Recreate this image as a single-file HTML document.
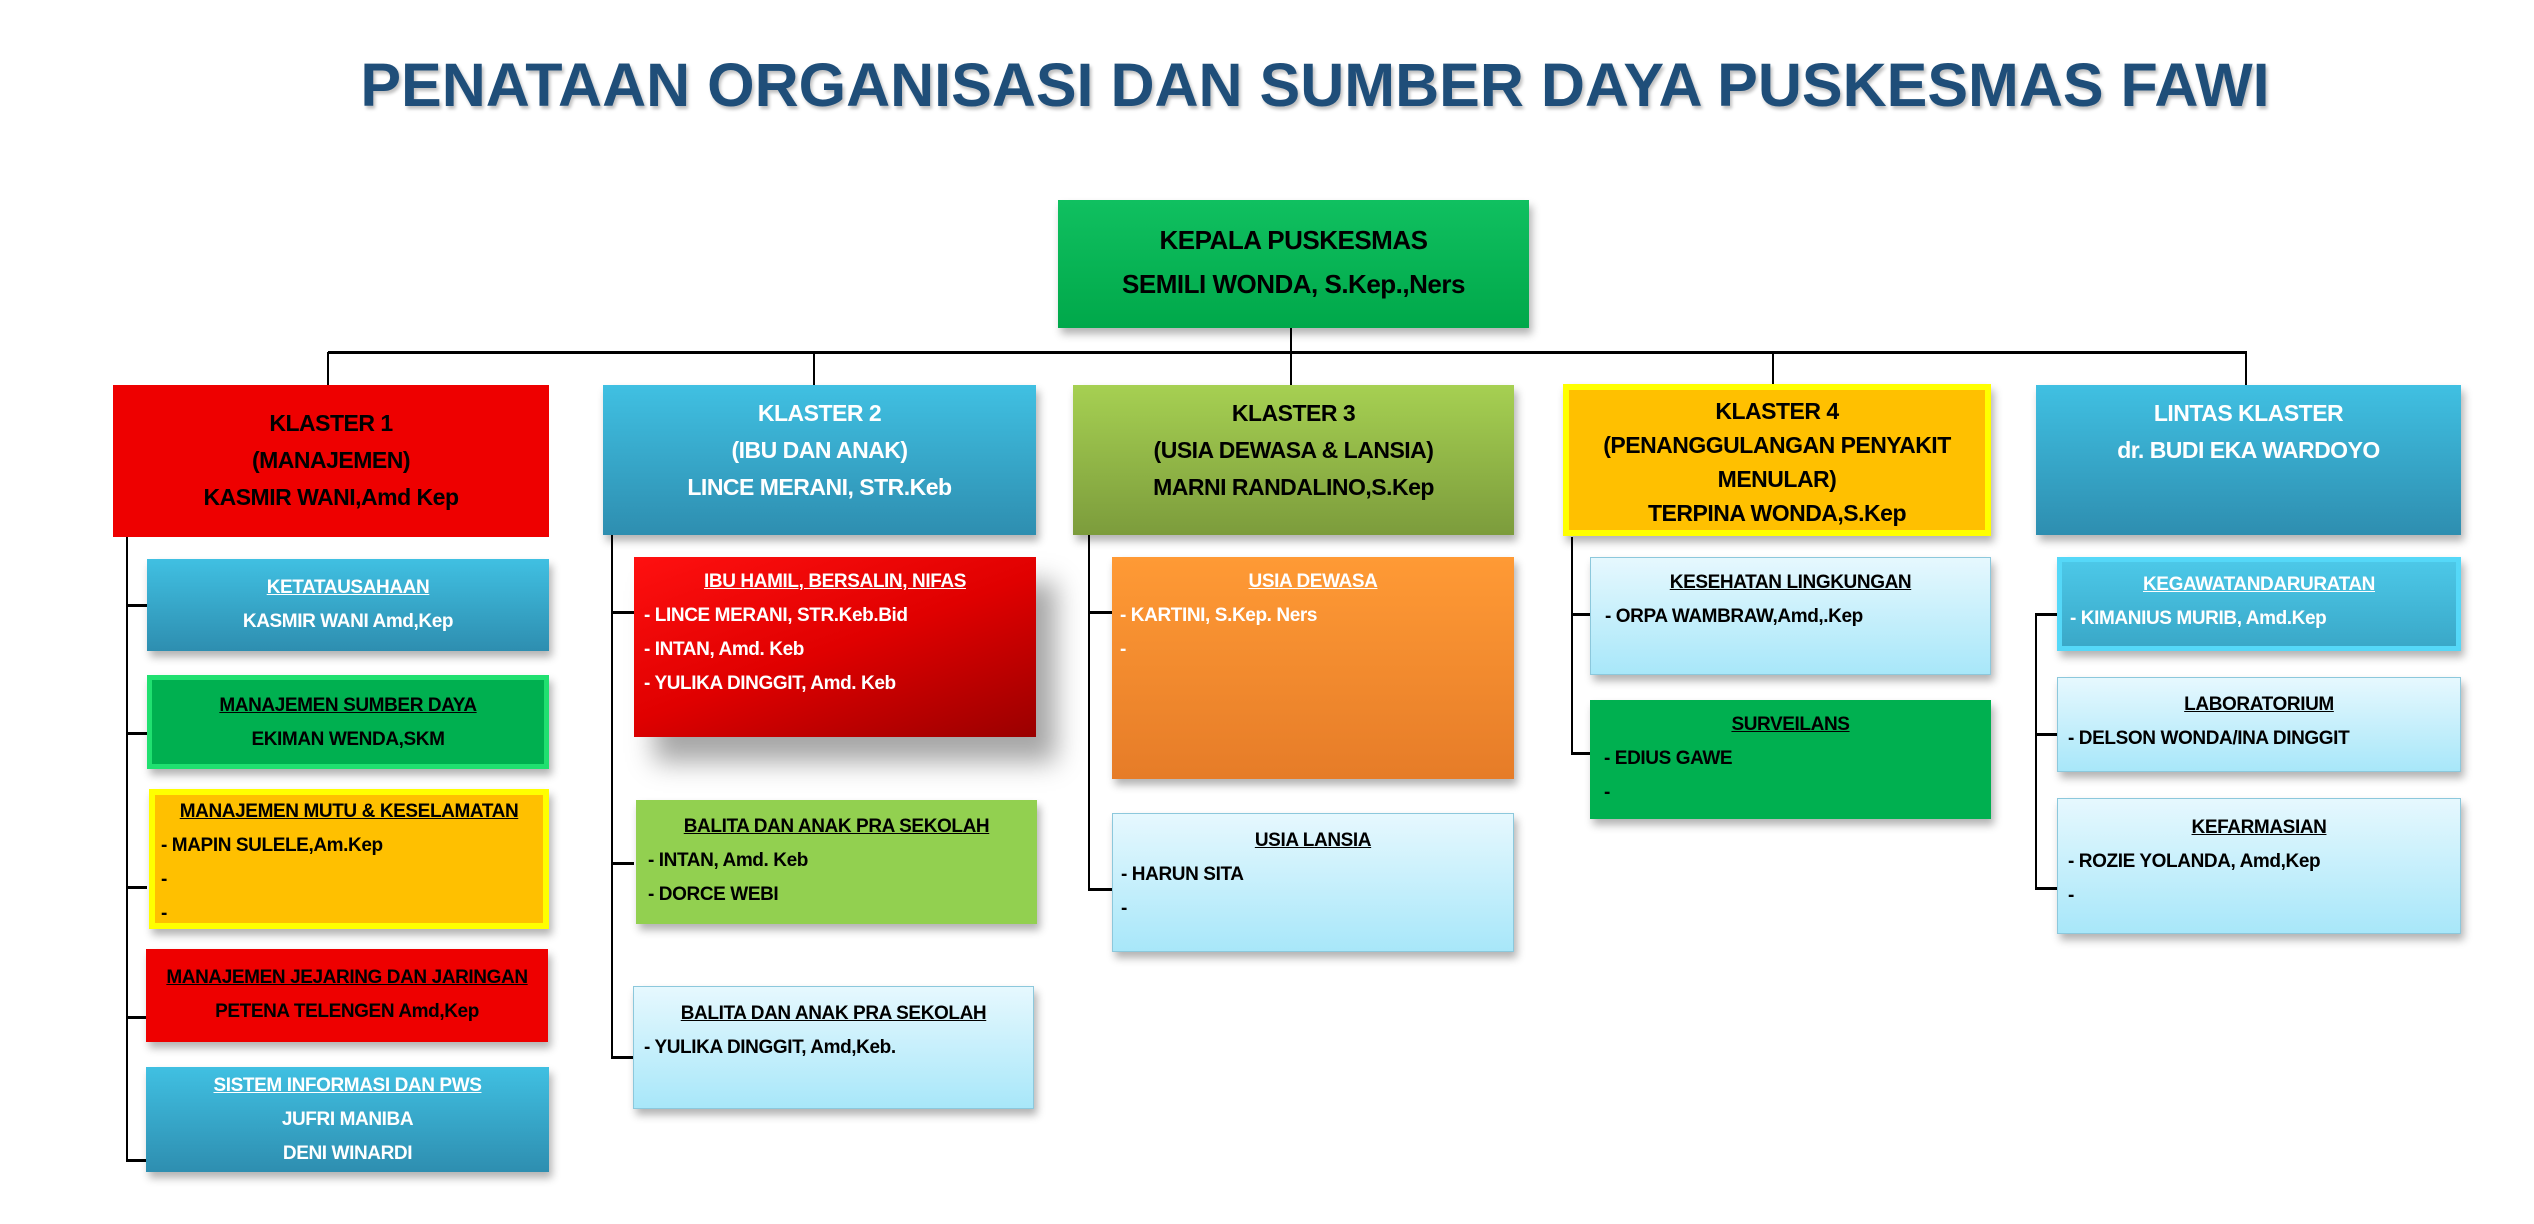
<!DOCTYPE html>
<html><head><meta charset="utf-8"><style>
*{margin:0;padding:0;box-sizing:border-box}
body{width:2534px;height:1224px;background:#fff;position:relative;overflow:hidden;font-family:"Liberation Sans Narrow","Liberation Sans",sans-serif;font-weight:bold}
.b{position:absolute;box-shadow:3px 6px 8px rgba(0,0,0,.3);font-size:19px;line-height:34px;color:#000;white-space:nowrap;letter-spacing:-0.4px}
.c{text-align:center}
.l{position:absolute;background:#000}
.u{text-decoration:underline;text-align:center;display:block}
.h{font-size:23px;line-height:37px;text-align:center;padding-top:10px;letter-spacing:-0.5px}
.blue{background:linear-gradient(#40c0e2,#2e8eb0);color:#fff}
.lb{background:linear-gradient(#e6f8fe,#a8e7f9);border:1px solid #8cc8dc}
.red{background:#ee0000}
.grn{background:#00b050}
.yel{background:#ffc000;border:6px solid #ffff00}
.t{padding-left:14px}
</style></head><body>
<div style="position:absolute;left:48px;width:2534px;top:50px;text-align:center;font-family:'Liberation Sans',sans-serif;font-weight:bold;font-size:61px;color:#1f4e79;text-shadow:2px 3px 3px rgba(0,0,0,.25);white-space:nowrap">PENATAAN ORGANISASI DAN SUMBER DAYA PUSKESMAS FAWI</div>

<div class="l" style="left:1290px;top:328px;width:2px;height:57px"></div>
<div class="l" style="left:328px;top:351px;width:1919px;height:3px"></div>
<div class="l" style="left:327px;top:352px;width:2px;height:33px"></div>
<div class="l" style="left:813px;top:352px;width:2px;height:33px"></div>
<div class="l" style="left:1772px;top:352px;width:2px;height:33px"></div>
<div class="l" style="left:2245px;top:352px;width:2px;height:33px"></div>

<div class="b grn h" style="left:1058px;top:200px;width:471px;height:128px;font-size:26px;line-height:44px;padding-top:18px;background:linear-gradient(#10c060,#00a84a)">KEPALA PUSKESMAS<br>SEMILI WONDA, S.Kep.,Ners</div>

<div class="b red h" style="left:113px;top:385px;width:436px;height:152px;padding-top:20px;box-shadow:none">KLASTER 1<br>(MANAJEMEN)<br>KASMIR WANI,Amd Kep</div>
<div class="b blue h" style="left:603px;top:385px;width:433px;height:150px">KLASTER 2<br>(IBU DAN ANAK)<br>LINCE MERANI, STR.Keb</div>
<div class="b h" style="left:1073px;top:385px;width:441px;height:150px;background:linear-gradient(#a6d052,#7c9c3c)">KLASTER 3<br>(USIA DEWASA &amp; LANSIA)<br>MARNI RANDALINO,S.Kep</div>
<div class="b yel h" style="left:1563px;top:384px;width:428px;height:152px;padding-top:4px;line-height:34px">KLASTER 4<br>(PENANGGULANGAN PENYAKIT<br>MENULAR)<br>TERPINA WONDA,S.Kep</div>
<div class="b blue h" style="left:2036px;top:385px;width:425px;height:150px">LINTAS KLASTER<br>dr. BUDI EKA WARDOYO</div>

<div class="l" style="left:126px;top:537px;width:2px;height:624px"></div>
<div class="l" style="left:126px;top:604px;width:21px;height:3px"></div>
<div class="l" style="left:126px;top:732px;width:21px;height:3px"></div>
<div class="l" style="left:126px;top:886px;width:21px;height:3px"></div>
<div class="l" style="left:126px;top:1016px;width:21px;height:3px"></div>
<div class="l" style="left:126px;top:1159px;width:21px;height:3px"></div>
<div class="b blue c" style="left:147px;top:559px;width:402px;height:92px;padding-top:12px"><span class="u">KETATAUSAHAAN</span>KASMIR WANI Amd,Kep</div>
<div class="b grn c" style="left:147px;top:675px;width:402px;height:94px;padding-top:9px;border:5px solid #20e070"><span class="u">MANAJEMEN SUMBER DAYA</span>EKIMAN WENDA,SKM</div>
<div class="b yel" style="left:149px;top:789px;width:400px;height:140px;padding-top:0px"><span class="u">MANAJEMEN MUTU &amp; KESELAMATAN</span><div class="t" style="padding-left:6px">- MAPIN SULELE,Am.Kep<br>-<br>-</div></div>
<div class="b red c" style="left:146px;top:949px;width:402px;height:93px;padding-top:12px"><span class="u">MANAJEMEN JEJARING DAN JARINGAN</span>PETENA TELENGEN Amd,Kep</div>
<div class="b blue c" style="left:146px;top:1067px;width:403px;height:105px;padding-top:2px;line-height:34px"><span class="u">SISTEM INFORMASI DAN PWS</span>JUFRI MANIBA<br>DENI WINARDI</div>

<div class="l" style="left:611px;top:535px;width:2px;height:524px"></div>
<div class="l" style="left:611px;top:611px;width:23px;height:3px"></div>
<div class="l" style="left:611px;top:862px;width:23px;height:3px"></div>
<div class="l" style="left:611px;top:1056px;width:23px;height:3px"></div>
<div class="b" style="left:634px;top:557px;width:402px;height:180px;background:linear-gradient(160deg,#ff1010,#e00000 50%,#9a0000);color:#fff;padding-top:8px;box-shadow:20px 25px 25px rgba(0,0,0,.35)"><span class="u">IBU HAMIL, BERSALIN, NIFAS</span><div class="t" style="padding-left:10px">- LINCE MERANI, STR.Keb.Bid<br>- INTAN, Amd. Keb<br>- YULIKA DINGGIT, Amd. Keb</div></div>
<div class="b" style="left:636px;top:800px;width:401px;height:124px;background:#92d050;padding-top:10px"><span class="u">BALITA DAN ANAK PRA SEKOLAH</span><div class="t" style="padding-left:12px">- INTAN, Amd. Keb<br>- DORCE WEBI</div></div>
<div class="b lb" style="left:633px;top:986px;width:401px;height:123px;padding-top:10px"><span class="u">BALITA DAN ANAK PRA SEKOLAH</span><div class="t" style="padding-left:10px">- YULIKA DINGGIT, Amd,Keb.</div></div>

<div class="l" style="left:1088px;top:535px;width:2px;height:356px"></div>
<div class="l" style="left:1088px;top:611px;width:24px;height:3px"></div>
<div class="l" style="left:1088px;top:888px;width:24px;height:3px"></div>
<div class="b" style="left:1112px;top:557px;width:402px;height:222px;background:linear-gradient(#ff9a35,#e67c28);color:#fff;padding-top:8px"><span class="u">USIA DEWASA</span><div class="t" style="padding-left:8px">- KARTINI, S.Kep. Ners<br>-</div></div>
<div class="b lb" style="left:1112px;top:813px;width:402px;height:139px;padding-top:10px"><span class="u">USIA LANSIA</span><div class="t" style="padding-left:8px">- HARUN SITA<br>-</div></div>

<div class="l" style="left:1571px;top:537px;width:2px;height:218px"></div>
<div class="l" style="left:1571px;top:613px;width:19px;height:3px"></div>
<div class="l" style="left:1571px;top:752px;width:19px;height:3px"></div>
<div class="b lb" style="left:1590px;top:557px;width:401px;height:118px;padding-top:8px"><span class="u">KESEHATAN LINGKUNGAN</span><div class="t" style="padding-left:14px">- ORPA WAMBRAW,Amd,.Kep</div></div>
<div class="b grn" style="left:1590px;top:700px;width:401px;height:119px;padding-top:8px"><span class="u">SURVEILANS</span><div class="t" style="padding-left:14px">- EDIUS GAWE<br>-</div></div>

<div class="l" style="left:2035px;top:613px;width:2px;height:277px"></div>
<div class="l" style="left:2035px;top:613px;width:22px;height:3px"></div>
<div class="l" style="left:2035px;top:733px;width:22px;height:3px"></div>
<div class="l" style="left:2035px;top:887px;width:22px;height:3px"></div>
<div class="b" style="left:2057px;top:557px;width:404px;height:94px;background:linear-gradient(#4cc8e8,#3aa8c8);border:5px solid #55d8f8;color:#fff;padding-top:6px"><span class="u">KEGAWATANDARURATAN</span><div class="t" style="padding-left:8px">- KIMANIUS MURIB, Amd.Kep</div></div>
<div class="b lb" style="left:2057px;top:677px;width:404px;height:95px;padding-top:10px"><span class="u">LABORATORIUM</span><div class="t" style="padding-left:10px">- DELSON WONDA/INA DINGGIT</div></div>
<div class="b lb" style="left:2057px;top:798px;width:404px;height:136px;padding-top:12px"><span class="u">KEFARMASIAN</span><div class="t" style="padding-left:10px">- ROZIE YOLANDA, Amd,Kep<br>-</div></div>
</body></html>
